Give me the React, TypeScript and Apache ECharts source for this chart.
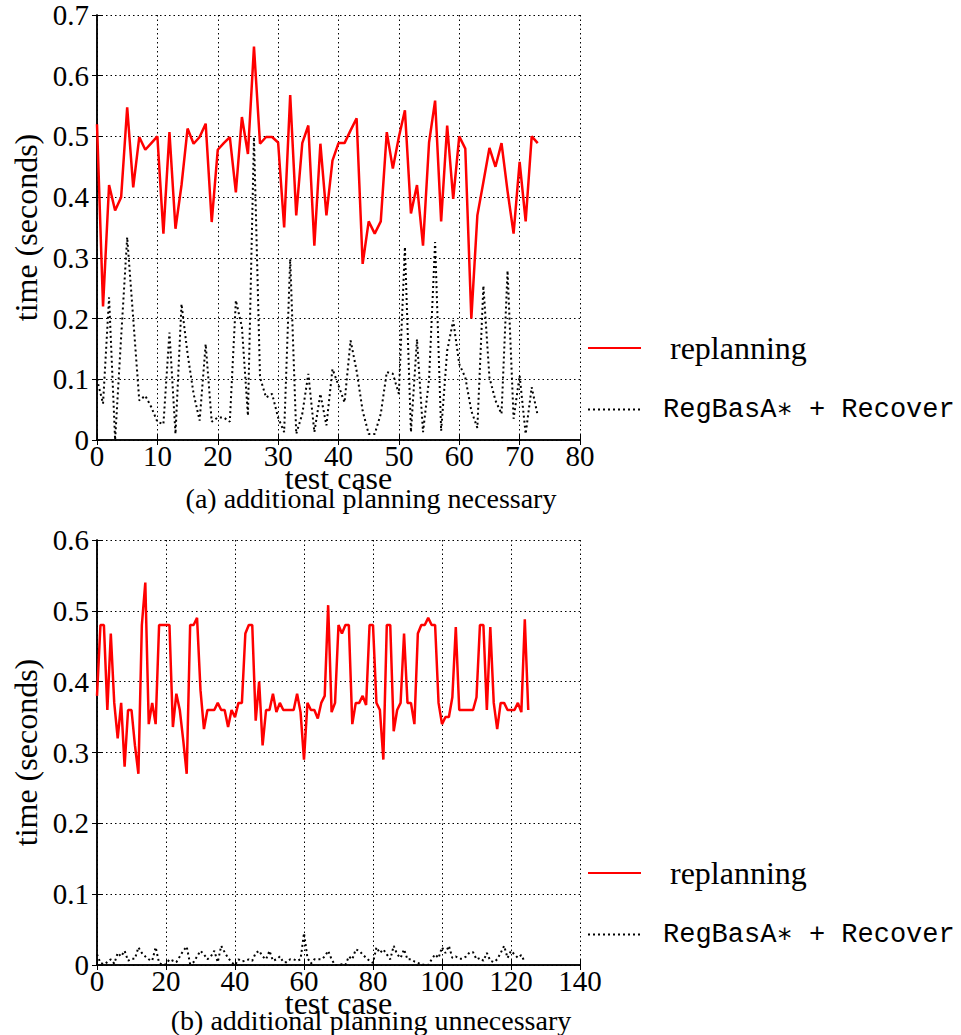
import React, { useEffect, useRef } from "react";
import * as echarts from "echarts";

// ---------- data ----------
const seriesNames = ["replanning", "RegBasA∗ + Recover"];

// (a) additional planning necessary — test cases 0..73
const topReplanning = [
  0.52, 0.22, 0.42, 0.378, 0.4, 0.548, 0.416, 0.499, 0.478, 0.489,
  0.5, 0.34, 0.507, 0.348, 0.42, 0.513, 0.488, 0.499, 0.521, 0.359,
  0.478, 0.489, 0.499, 0.408, 0.532, 0.471, 0.648, 0.488, 0.499, 0.499,
  0.49, 0.35, 0.568, 0.37, 0.489, 0.518, 0.32, 0.488, 0.37, 0.46,
  0.489, 0.489, 0.51, 0.53, 0.29, 0.36, 0.34, 0.36, 0.507, 0.447,
  0.499, 0.543, 0.373, 0.42, 0.32, 0.49, 0.559, 0.36, 0.518, 0.397,
  0.5, 0.48, 0.2, 0.37, 0.425, 0.481, 0.45, 0.489, 0.41, 0.34,
  0.458, 0.36, 0.5, 0.489,
];
const topRegBas = [
  0.1, 0.06, 0.235, 0.0, 0.17, 0.334, 0.2, 0.065, 0.073, 0.054,
  0.03, 0.026, 0.177, 0.01, 0.224, 0.142, 0.076, 0.032, 0.158, 0.03,
  0.037, 0.037, 0.03, 0.23, 0.186, 0.04, 0.499, 0.103, 0.07, 0.076,
  0.037, 0.013, 0.298, 0.01, 0.043, 0.109, 0.013, 0.076, 0.024, 0.117,
  0.09, 0.062, 0.164, 0.114, 0.048, 0.01, 0.01, 0.043, 0.112, 0.109,
  0.076, 0.318, 0.013, 0.166, 0.013, 0.1, 0.326, 0.015, 0.147, 0.197,
  0.125, 0.103, 0.048, 0.02, 0.254, 0.103, 0.065, 0.043, 0.279, 0.035,
  0.106, 0.01, 0.087, 0.04,
];

// (b) additional planning unnecessary — test cases 0..125
const bottomReplanning = [
  0.38, 0.48, 0.48, 0.36, 0.468, 0.37, 0.32, 0.37, 0.28, 0.36,
  0.36, 0.31, 0.27, 0.48, 0.54, 0.34, 0.37, 0.34, 0.48, 0.48,
  0.48, 0.48, 0.336, 0.383, 0.36, 0.317, 0.27, 0.48, 0.48, 0.49,
  0.388, 0.333, 0.36, 0.36, 0.36, 0.37, 0.36, 0.36, 0.336, 0.36,
  0.35, 0.37, 0.37, 0.468, 0.48, 0.48, 0.345, 0.4, 0.31, 0.36,
  0.36, 0.383, 0.357, 0.37, 0.36, 0.36, 0.36, 0.36, 0.383, 0.357,
  0.29, 0.37, 0.36, 0.36, 0.348, 0.37, 0.38, 0.508, 0.357, 0.37,
  0.48, 0.468, 0.48, 0.48, 0.34, 0.37, 0.37, 0.38, 0.367, 0.48,
  0.48, 0.37, 0.36, 0.29, 0.48, 0.48, 0.33, 0.36, 0.37, 0.468,
  0.37, 0.37, 0.34, 0.468, 0.48, 0.48, 0.49, 0.48, 0.48, 0.37,
  0.34, 0.35, 0.35, 0.378, 0.477, 0.36, 0.36, 0.36, 0.36, 0.36,
  0.378, 0.48, 0.48, 0.36, 0.477, 0.37, 0.333, 0.37, 0.37, 0.36,
  0.36, 0.36, 0.37, 0.357, 0.488, 0.36,
];
const bottomRegBas = [
  0.015, 0.003, 0.001, 0.004, 0.008, 0.002, 0.017, 0.012, 0.02, 0.006,
  0.009, 0.009, 0.025, 0.017, 0.012, 0.008, 0.006, 0.025, 0.003, 0.0,
  0.001, 0.008, 0.006, 0.004, 0.012, 0.02, 0.026, 0.001, 0.004, 0.012,
  0.02, 0.015, 0.008, 0.012, 0.02, 0.004, 0.027, 0.018, 0.01, 0.004,
  0.0, 0.008, 0.005, 0.006, 0.008, 0.006, 0.017, 0.02, 0.012, 0.008,
  0.02, 0.006, 0.008, 0.012, 0.004, 0.004, 0.008, 0.008, 0.006, 0.008,
  0.045, 0.01, 0.002, 0.008, 0.008, 0.008, 0.012, 0.02, 0.008, 0.0,
  0.0, 0.001, 0.0, 0.012, 0.008, 0.022, 0.02, 0.015, 0.01, 0.006,
  0.003, 0.025, 0.017, 0.022, 0.015, 0.008, 0.027, 0.015, 0.01, 0.022,
  0.008, 0.008, 0.005, 0.003, 0.001, 0.0, 0.0, 0.008, 0.015, 0.01,
  0.025, 0.017, 0.027, 0.01, 0.012, 0.009, 0.009, 0.012, 0.018, 0.018,
  0.008, 0.01, 0.006, 0.017, 0.006, 0.004, 0.008, 0.017, 0.027, 0.01,
  0.02, 0.015, 0.01, 0.014, 0.004,
];

const topXMax = 80;
const topXInterval = 10;
const topYMax = 0.7;
const bottomXMax = 140;
const bottomXInterval = 20;
const bottomYMax = 0.6;
const yInterval = 0.1;

const captions = ["(a) additional planning necessary", "(b) additional planning unnecessary"];
const xAxisTitle = "test case";
const yAxisTitle = "time (seconds)";

// ---------- helpers ----------
const SERIF = "'Liberation Serif', 'Times New Roman', serif";
const MONO = "'Liberation Mono', 'DejaVu Sans Mono', monospace";

const toPairs = (arr: number[]) => arr.map((v, i) => [i, v]);
const yFmt = (v: number) => (Math.abs(v) < 1e-9 ? "0" : v.toFixed(1));

function makeAxes(gridIndex: number, xMax: number, xInt: number, yMax: number) {
  const line = { show: true, lineStyle: { color: "#000", width: 1.5 } };
  const tick = { show: true, inside: true, length: 5, lineStyle: { color: "#000", width: 1 } };
  const split = { show: true, lineStyle: { color: "#000", width: 1, type: [1.5, 3] as any } };
  const xAxes = [
    {
      type: "value",
      gridIndex,
      min: 0,
      max: xMax,
      interval: xInt,
      position: "bottom",
      axisLine: line,
      axisTick: tick,
      splitLine: split,
      axisLabel: {
        show: true,
        color: "#000",
        fontFamily: SERIF,
        fontSize: 29,
        margin: 4,
        lineHeight: 24,
      },
      name: xAxisTitle,
      nameLocation: "middle",
      nameGap: 26,
      nameMoveOverlap: false,
      nameTextStyle: { color: "#000", fontFamily: SERIF, fontSize: 32, lineHeight: 24 },
    },
    {
      type: "value",
      gridIndex,
      min: 0,
      max: xMax,
      interval: xInt,
      position: "top",
      axisLine: line,
      axisTick: tick,
      splitLine: { show: false },
      axisLabel: { show: false },
    },
  ];
  const yAxes = [
    {
      type: "value",
      gridIndex,
      min: 0,
      max: yMax,
      interval: yInterval,
      position: "left",
      axisLine: line,
      axisTick: tick,
      splitLine: split,
      axisLabel: {
        show: true,
        color: "#000",
        fontFamily: SERIF,
        fontSize: 29,
        margin: 8,
        formatter: yFmt,
      },
      name: yAxisTitle,
      nameLocation: "middle",
      nameGap: 50,
      nameTextStyle: { color: "#000", fontFamily: SERIF, fontSize: 32 },
    },
    {
      type: "value",
      gridIndex,
      min: 0,
      max: yMax,
      interval: yInterval,
      position: "right",
      axisLine: line,
      axisTick: tick,
      splitLine: { show: false },
      axisLabel: { show: false },
    },
  ];
  return { xAxes, yAxes };
}

export default function App() {
  const ref = useRef<HTMLDivElement>(null);

  useEffect(() => {
    if (!ref.current) return;
    const chart = echarts.init(ref.current, undefined, { renderer: "svg" });

    const a = makeAxes(0, topXMax, topXInterval, topYMax);
    const b = makeAxes(1, bottomXMax, bottomXInterval, bottomYMax);

    const redStyle = { color: "#ff0000", width: 2.5, type: "solid" as const };
    const blackStyle = { color: "#000", width: 2, type: [2, 3] as any };

    const legendBase = {
      orient: "vertical",
      itemWidth: 53,
      itemHeight: 14,
      itemGap: 32,
      data: seriesNames,
      itemStyle: { opacity: 0, borderWidth: 0 },
      formatter: (n: string) => (n === seriesNames[0] ? `{s|${n}}` : `{m|${n}}`),
      textStyle: {
        color: "#000",
        rich: {
          s: { fontFamily: SERIF, fontSize: 32, color: "#000", lineHeight: 32, padding: [0, 0, 0, 24] },
          m: { fontFamily: MONO, fontSize: 27, color: "#000", lineHeight: 32, padding: [0, 0, 0, 17] },
        },
      },
      selectedMode: false,
    };

    const captionStyle = (text: string) => ({
      text,
      fill: "#000",
      font: `28px ${SERIF}`,
      textAlign: "center",
      textVerticalAlign: "middle",
    });

    const option: any = {
      animation: false,
      backgroundColor: "#fff",
      grid: [
        { left: 97, top: 15, width: 483, height: 425, containLabel: false },
        { left: 97, top: 540, width: 483, height: 425, containLabel: false },
      ],
      xAxis: [...a.xAxes, ...b.xAxes],
      yAxis: [...a.yAxes, ...b.yAxes],
      legend: [
        { ...legendBase, left: 582, top: 327 },
        { ...legendBase, left: 582, top: 852 },
      ],
      series: [
        {
          name: seriesNames[0],
          type: "line",
          xAxisIndex: 0,
          yAxisIndex: 0,
          data: toPairs(topReplanning),
          symbol: "none",
          lineStyle: redStyle,
          itemStyle: { color: "#ff0000" },
        },
        {
          name: seriesNames[1],
          type: "line",
          xAxisIndex: 0,
          yAxisIndex: 0,
          data: toPairs(topRegBas),
          symbol: "none",
          lineStyle: blackStyle,
          itemStyle: { color: "#000" },
        },
        {
          name: seriesNames[0],
          type: "line",
          xAxisIndex: 2,
          yAxisIndex: 2,
          data: toPairs(bottomReplanning),
          symbol: "none",
          lineStyle: redStyle,
          itemStyle: { color: "#ff0000" },
        },
        {
          name: seriesNames[1],
          type: "line",
          xAxisIndex: 2,
          yAxisIndex: 2,
          data: toPairs(bottomRegBas),
          symbol: "none",
          lineStyle: blackStyle,
          itemStyle: { color: "#000" },
        },
      ],
      graphic: [
        { type: "text", x: 371, y: 498, style: captionStyle(captions[0]) },
        { type: "text", x: 371, y: 1020, style: captionStyle(captions[1]) },
      ],
    };

    chart.setOption(option);
    return () => chart.dispose();
  }, []);

  return (
    <div
      ref={ref}
      style={{ position: "absolute", left: 0, top: 0, width: 961, height: 1035 }}
    />
  );
}
